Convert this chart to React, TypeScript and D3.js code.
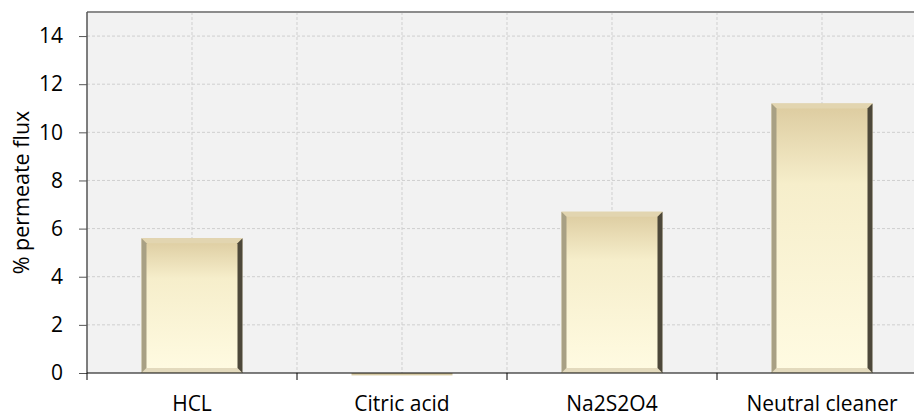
import React, { useEffect, useRef } from "react";
import * as d3 from "d3";

const width = 914;
const height = 418;

const categories = ["HCL", "Citric acid", "Na2S2O4", "Neutral cleaner"];
const values = [5.6, -0.1, 6.7, 11.2];
const yTicks = [0, 2, 4, 6, 8, 10, 12, 14];

const font = "'Open Sans', sans-serif";

const App = () => {
  const svgRef = useRef<SVGSVGElement>(null);

  useEffect(() => {
    const margin = { top: 12, left: 87, bottom: 45 };
    const plotW = 840; // runs past the right edge like the original
    const innerH = height - margin.top - margin.bottom;

    const svg = d3.select(svgRef.current);
    svg.selectAll("*").remove();

    const defs = svg.append("defs");
    const grad = defs
      .append("linearGradient")
      .attr("id", "barFill")
      .attr("x1", 0)
      .attr("y1", 0)
      .attr("x2", 0)
      .attr("y2", 1);
    grad.append("stop").attr("offset", "0%").attr("stop-color", "#dccb9f");
    grad.append("stop").attr("offset", "30%").attr("stop-color", "#f6eecb");
    grad.append("stop").attr("offset", "100%").attr("stop-color", "#fffbe2");

    const x = d3
      .scaleBand()
      .domain(categories)
      .range([margin.left, margin.left + plotW])
      .paddingInner(0)
      .paddingOuter(0);

    const y = d3
      .scaleLinear()
      .domain([0, 15])
      .range([margin.top + innerH, margin.top]);

    // plot background
    svg
      .append("rect")
      .attr("x", margin.left)
      .attr("y", margin.top)
      .attr("width", plotW)
      .attr("height", y(0) - margin.top)
      .attr("fill", "#f2f2f2");

    // horizontal gridlines
    svg
      .append("g")
      .selectAll("line")
      .data(yTicks.filter((d) => d > 0))
      .enter()
      .append("line")
      .attr("x1", margin.left)
      .attr("x2", margin.left + plotW)
      .attr("y1", (d) => y(d))
      .attr("y2", (d) => y(d))
      .attr("stroke", "#cfcfcf")
      .attr("stroke-dasharray", "3,2");

    // vertical gridlines at category centres and boundaries
    const vLines: number[] = [];
    categories.forEach((c, i) => {
      vLines.push((x(c) as number) + x.bandwidth() / 2);
      if (i > 0) vLines.push(x(c) as number);
    });
    svg
      .append("g")
      .selectAll("line")
      .data(vLines)
      .enter()
      .append("line")
      .attr("x1", (d) => d)
      .attr("x2", (d) => d)
      .attr("y1", margin.top)
      .attr("y2", y(0))
      .attr("stroke", "#cfcfcf")
      .attr("stroke-dasharray", "3,2");

    // top border
    svg
      .append("line")
      .attr("x1", margin.left)
      .attr("x2", margin.left + plotW)
      .attr("y1", margin.top)
      .attr("y2", margin.top)
      .attr("stroke", "#8c8c8c")
      .attr("stroke-width", 2);

    // bars with bevel
    const barW = 101;
    const bev = 5;
    const bars = svg
      .append("g")
      .selectAll("g")
      .data(categories.map((c, i) => ({ c, v: values[i] })))
      .enter()
      .append("g");

    bars.each(function (d) {
      const g = d3.select(this);
      const x0 = (x(d.c) as number) + (x.bandwidth() - barW) / 2;
      const x1 = x0 + barW;
      const yTop = Math.min(y(d.v), y(0));
      const yBot = Math.max(y(d.v), y(0));
      if (yBot - yTop < 2 * bev) {
        g.append("rect")
          .attr("x", x0)
          .attr("y", yTop)
          .attr("width", barW)
          .attr("height", yBot - yTop)
          .attr("fill", "#d6c9a2");
        return;
      }
      g.append("rect")
        .attr("x", x0)
        .attr("y", yTop)
        .attr("width", barW)
        .attr("height", yBot - yTop)
        .attr("fill", "url(#barFill)");
      const pts = (p: number[][]) => p.map((q) => q.join(",")).join(" ");
      // top
      g.append("polygon")
        .attr("points", pts([[x0, yTop], [x1, yTop], [x1 - bev, yTop + bev], [x0 + bev, yTop + bev]]))
        .attr("fill", "#e2d5b0");
      // bottom
      g.append("polygon")
        .attr("points", pts([[x0, yBot], [x1, yBot], [x1 - bev, yBot - bev], [x0 + bev, yBot - bev]]))
        .attr("fill", "#e3dabd");
      // left
      g.append("polygon")
        .attr("points", pts([[x0, yTop], [x0 + bev, yTop + bev], [x0 + bev, yBot - bev], [x0, yBot]]))
        .attr("fill", "#a8a084");
      // right
      g.append("polygon")
        .attr("points", pts([[x1, yTop], [x1 - bev, yTop + bev], [x1 - bev, yBot - bev], [x1, yBot]]))
        .attr("fill", "#4d483a");
    });

    // y axis
    const yAxis = svg
      .append("g")
      .attr("transform", `translate(${margin.left},0)`)
      .call(d3.axisLeft(y).tickValues(yTicks).tickSize(8).tickPadding(16));
    yAxis.select(".domain").attr("stroke", "#555").attr("stroke-width", 1.5)
      .attr("d", `M0,${margin.top}V${y(0)}`);
    yAxis.selectAll(".tick line").attr("stroke", "#555");
    yAxis
      .selectAll("text")
      .style("font-family", font)
      .style("font-size", "21px")
      .attr("fill", "#000");

    // x axis baseline and boundary ticks
    svg
      .append("line")
      .attr("x1", margin.left)
      .attr("x2", margin.left + plotW)
      .attr("y1", y(0))
      .attr("y2", y(0))
      .attr("stroke", "#000")
      .attr("stroke-width", 1.2);

    svg
      .append("g")
      .selectAll("line")
      .data(categories)
      .enter()
      .append("line")
      .attr("x1", (d) => x(d) as number)
      .attr("x2", (d) => x(d) as number)
      .attr("y1", y(0))
      .attr("y2", y(0) + 7)
      .attr("stroke", "#000");

    svg
      .append("g")
      .selectAll("text")
      .data(categories)
      .enter()
      .append("text")
      .attr("x", (d) => (x(d) as number) + x.bandwidth() / 2)
      .attr("y", 411)
      .attr("text-anchor", "middle")
      .style("font-family", font)
      .style("font-size", "21px")
      .text((d) => d);

    // y axis title
    svg
      .append("text")
      .attr("transform", `translate(29,${(margin.top + y(0)) / 2}) rotate(-90)`)
      .attr("text-anchor", "middle")
      .style("font-family", font)
      .style("font-size", "21.5px")
      .text("% permeate flux");
  }, []);

  return (
    <div style={{ position: "absolute", left: 0, top: 0 }}>
      <svg ref={svgRef} width={width} height={height} style={{ display: "block" }}></svg>
    </div>
  );
};

export default App;
